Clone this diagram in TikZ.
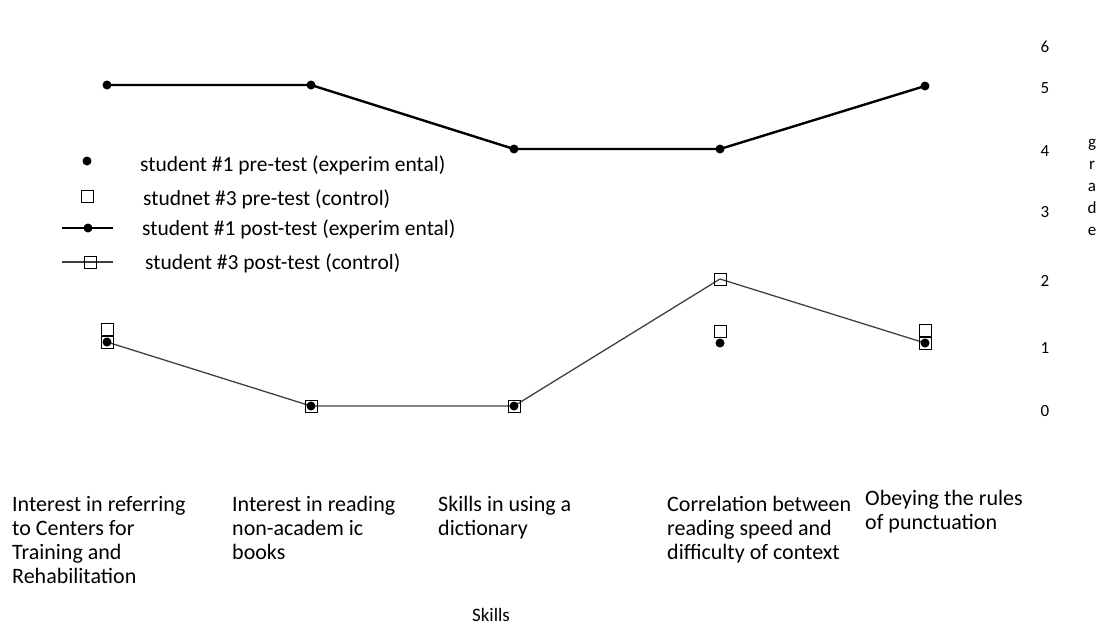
\documentclass[tikz,border=0pt]{standalone}
\usepackage{fontspec}
\setmainfont{Carlito}
\usetikzlibrary{calc}

\tikzset{
    dot/.style={circle, fill=black, inner sep=0pt, minimum size=9pt},
    sq/.style={rectangle, draw=black, line width=1pt, inner sep=0pt, minimum size=12pt},
    postone/.style={line width=2.4pt, black},
    postthree/.style={line width=1.3pt, black!75},
    lbl/.style={anchor=north west, align=left, inner sep=0pt, font=\fontsize{22}{24}\selectfont},
    leg/.style={anchor=west, inner sep=0pt, font=\fontsize{21.5}{24}\selectfont},
    tick/.style={inner sep=0pt, font=\fontsize{17}{17}\selectfont},
}

\begin{document}
\begin{tikzpicture}[x=1pt, y=-1pt]
        \useasboundingbox (0,0) rectangle (1100,625);

        % data points
        \coordinate (a1) at (107,85);
        \coordinate (a2) at (311,85);
        \coordinate (a3) at (514,149);
        \coordinate (a4) at (720,149);
        \coordinate (a5) at (925,86);

        \coordinate (b1) at (107,342);
        \coordinate (b2) at (311,406);
        \coordinate (b3) at (514,406);
        \coordinate (b4) at (720,279);
        \coordinate (b5) at (925,343);

        \draw[postone] (a1) -- (a2) -- (a3) -- (a4) -- (a5);
        \draw[postthree] (b1) -- (b2) -- (b3) -- (b4) -- (b5);

        \foreach \p in {a1,a2,a3,a4,a5}
            \node (m\p) [dot] at (\p) {};
        \foreach \p in {b1,b2,b3,b4,b5}
            \node (m\p) [sq] at (\p) {};

        % pre-test
        \node (c1) [dot] at (107,342) {};
        \node (c2) [dot] at (311,406) {};
        \node (c3) [dot] at (514,406) {};
        \node (c4) [dot] at (720,343) {};
        \node (c5) [dot] at (925,343) {};
        \node (s1) [sq] at (107,329) {};
        \node (s2) [sq] at (311,406) {};
        \node (s3) [sq] at (514,406) {};
        \node (s4) [sq] at (720,331) {};
        \node (s5) [sq] at (925,330) {};

        % legend
        \node (k1) [dot] at (87,161) {};
        \node (k2) [sq] at (87,196) {};
        \coordinate (k3l) at (62,228);
        \coordinate (k3r) at (113,228);
        \draw[postone] (k3l) -- (k3r);
        \node (k3) [dot] at (88,228) {};
        \coordinate (k4l) at (62,262);
        \coordinate (k4r) at (113,262);
        \draw[postthree] (k4l) -- (k4r);
        \node (k4) [sq] at (90,262) {};

        \node (t1) [leg] at (140,165) {student \#1 pre-test (experim ental)};
        \node (t2) [leg] at (143,199) {studnet \#3 pre-test (control)};
        \node (t3) [leg] at (142,229) {student \#1 post-test (experim ental)};
        \node (t4) [leg] at (145,263) {student \#3 post-test (control)};

        % axis
        \node (y6) [tick] at (1045,47) {6};
        \node (y5) [tick] at (1045,88) {5};
        \node (y4) [tick] at (1045,151) {4};
        \node (y3) [tick] at (1045,212) {3};
        \node (y2) [tick] at (1045,281) {2};
        \node (y1) [tick] at (1045,348) {1};
        \node (y0) [tick] at (1045,411) {0};
        \node (grade) [tick, align=center, font=\fontsize{17}{22}\selectfont] at (1092,187) {g\\r\\a\\d\\e};

        % skills
        \node (x1) [lbl] at (12,496) {Interest in referring\\to Centers for\\Training and\\Rehabilitation};
        \node (x2) [lbl] at (232,496) {Interest in reading\\non-academ ic\\books};
        \node (x3) [lbl] at (438,496) {Skills in using a\\dictionary};
        \node (x4) [lbl] at (667,496) {Correlation between\\reading speed and\\difficulty of context};
        \node (x5) [lbl] at (865,490) {Obeying the rules\\of punctuation};
        \node (skills) [tick, font=\fontsize{19}{19}\selectfont] at (491,615) {Skills};
    \end{tikzpicture}
\end{document}
